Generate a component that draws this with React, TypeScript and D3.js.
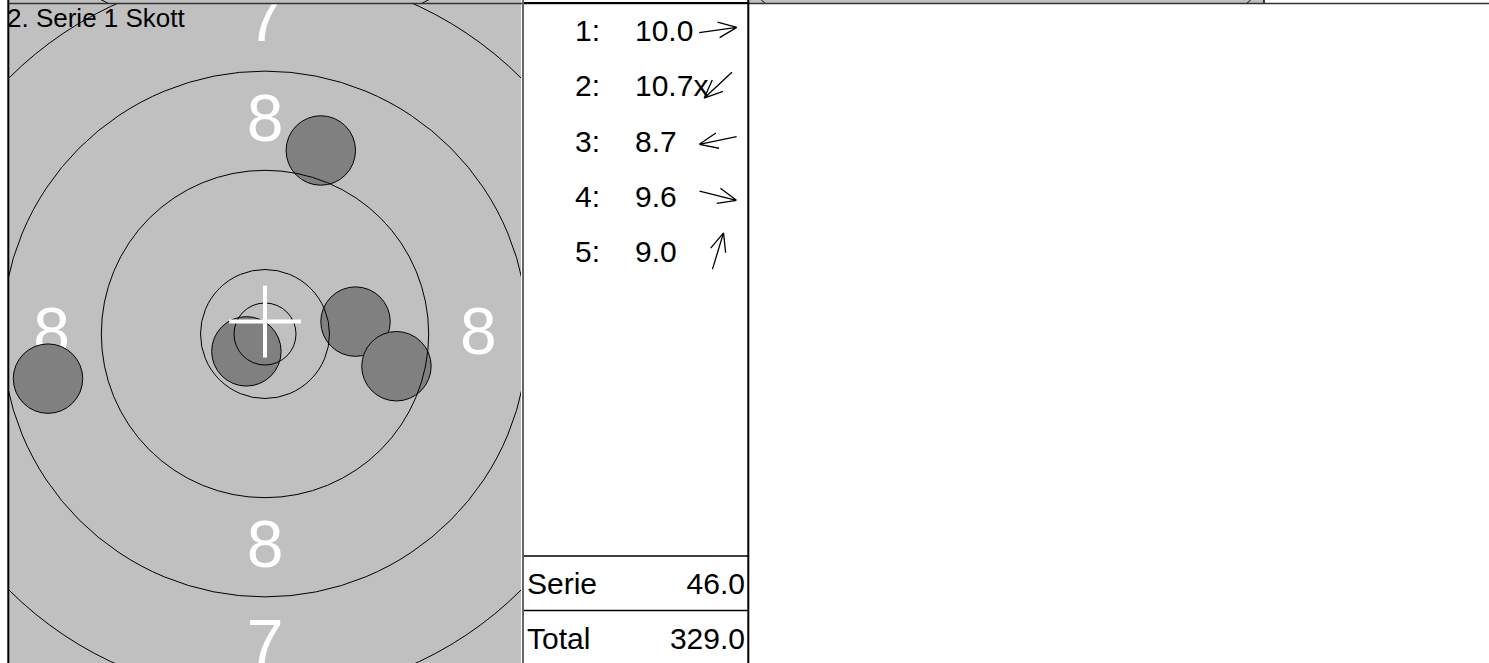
import React, { useRef, useEffect } from "react";
import * as d3 from "d3";

// series header and shot list
const seriesTitle = "2. Serie 1 Skott";
const shotLabels = ["1:", "2:", "3:", "4:", "5:"];
const shotScores = ["10.0", "10.7x", "8.7", "9.6", "9.0"];
// shot positions in mm from target centre (x right, y up)
const shotX = [7.3, -1.5, -17.5, 10.6, 4.5];
const shotY = [1.0, -1.4, -3.6, -2.6, 14.8];
const shotRadius = 2.8;
// ring radii in mm: inner ten, 10, 9, 8, 7
const ringRadii = [2.5, 5.2, 13.2, 21.2, 29.2];
const ringLabels = ["8", "7"];
const ringLabelDist = [17.2, 25.2];
// white sight cross
const aimX = 0;
const aimY = 1.0;
const aimSize = 2.9;
const summaryLabels = ["Serie", "Total"];
const summaryValues = ["46.0", "329.0"];

const W = 1489;
const H = 663;
const FONT = "'Liberation Sans', Arial, sans-serif";

const App: React.FC = () => {
  const ref = useRef<SVGSVGElement | null>(null);

  useEffect(() => {
    if (!ref.current) return;
    const svg = d3.select(ref.current);
    svg.selectAll("*").remove();

    const k = 12.4; // px per mm
    const panel = { x0: 9, x1: 521, y0: 4, y1: H };
    const list = { x0: 522, x1: 748 };

    const defs = svg.append("defs");
    defs
      .append("clipPath")
      .attr("id", "target-clip")
      .append("rect")
      .attr("x", panel.x0)
      .attr("y", panel.y0)
      .attr("width", panel.x1 - panel.x0)
      .attr("height", panel.y1 - panel.y0);
    defs
      .append("clipPath")
      .attr("id", "strip-clip")
      .append("rect")
      .attr("x", 0)
      .attr("y", 0)
      .attr("width", W)
      .attr("height", 3);

    const drawTarget = (
      g: d3.Selection<SVGGElement, unknown, null, undefined>,
      cx: number,
      cy: number,
      full: boolean
    ) => {
      const x = d3.scaleLinear().domain([0, 1]).range([cx, cx + k]);
      const y = d3.scaleLinear().domain([0, 1]).range([cy, cy - k]);
      const r = d3.scaleLinear().domain([0, 1]).range([0, k]);

      if (full) {
        // ring numbers
        ringLabels.forEach((lab, i) => {
          const d = ringLabelDist[i];
          const pts: [number, number][] =
            lab === "8"
              ? [
                  [0, d],
                  [0, -d],
                  [-d, 0],
                  [d, 0],
                ]
              : [
                  [0, d],
                  [0, -d],
                ];
          g.selectAll(null)
            .data(pts)
            .enter()
            .append("text")
            .attr("x", (p) => x(p[0]))
            .attr("y", (p) => y(p[1]))
            .attr("dy", "0.3em")
            .attr("text-anchor", "middle")
            .attr("font-family", FONT)
            .attr("font-size", 66)
            .attr("fill", "#ffffff")
            .text(lab);
        });

        g.selectAll("circle.shot")
          .data(shotX)
          .enter()
          .append("circle")
          .attr("class", "shot")
          .attr("cx", (d) => x(d))
          .attr("cy", (_, i) => y(shotY[i]))
          .attr("r", r(shotRadius))
          .attr("fill", "#808080")
          .attr("stroke", "#000")
          .attr("stroke-width", 1);
      }

      g.selectAll("circle.ring")
        .data(ringRadii)
        .enter()
        .append("circle")
        .attr("class", "ring")
        .attr("cx", cx)
        .attr("cy", cy)
        .attr("r", (d) => r(d))
        .attr("fill", "none")
        .attr("stroke", "#000")
        .attr("stroke-width", 1);

      if (full) {
        const cross = g.append("g").attr("stroke", "#fff").attr("stroke-width", 4);
        cross
          .append("line")
          .attr("x1", x(aimX - aimSize))
          .attr("x2", x(aimX + aimSize))
          .attr("y1", y(aimY))
          .attr("y2", y(aimY));
        cross
          .append("line")
          .attr("x1", x(aimX))
          .attr("x2", x(aimX))
          .attr("y1", y(aimY - aimSize))
          .attr("y2", y(aimY + aimSize));
      }
    };

    // strip of the previous row at the top edge
    const strip = svg.append("g").attr("clip-path", "url(#strip-clip)");
    strip
      .append("rect")
      .attr("x", panel.x0)
      .attr("y", 0)
      .attr("width", panel.x1 - panel.x0)
      .attr("height", 3)
      .attr("fill", "#c0c0c0");
    strip
      .append("rect")
      .attr("x", 749)
      .attr("y", 0)
      .attr("width", 515)
      .attr("height", 3)
      .attr("fill", "#c0c0c0");
    drawTarget(strip, 265, -323, false);
    strip
      .append("circle")
      .attr("cx", 1006)
      .attr("cy", -267)
      .attr("r", ringRadii[4] * k)
      .attr("fill", "none")
      .attr("stroke", "#000");

    // current target panel
    const tg = svg.append("g").attr("clip-path", "url(#target-clip)");
    tg.append("rect")
      .attr("x", panel.x0)
      .attr("y", panel.y0)
      .attr("width", panel.x1 - panel.x0)
      .attr("height", panel.y1 - panel.y0)
      .attr("fill", "#c0c0c0");
    drawTarget(tg, 265, 334, true);

    svg
      .append("text")
      .attr("x", 7)
      .attr("y", 27)
      .attr("font-family", FONT)
      .attr("font-size", 26)
      .attr("fill", "#000")
      .text(seriesTitle);

    // shot list
    const rowY = d3.scaleLinear().domain([0, 4]).range([41, 262]);
    const lg = svg.append("g").attr("font-family", FONT).attr("font-size", 30);
    shotLabels.forEach((lab, i) => {
      lg.append("text").attr("x", 575).attr("y", rowY(i)).text(lab);
      lg.append("text").attr("x", 635).attr("y", rowY(i)).text(shotScores[i]);

      // direction arrow pointing from centre towards the shot
      const a = Math.atan2(-shotY[i], shotX[i]);
      const mx = 718;
      const my = rowY(i) - 11;
      const half = 19;
      const tipX = mx + half * Math.cos(a);
      const tipY = my + half * Math.sin(a);
      const path = d3.path();
      path.moveTo(mx - half * Math.cos(a), my - half * Math.sin(a));
      path.lineTo(tipX, tipY);
      [-0.4, 0.4].forEach((s) => {
        path.moveTo(tipX, tipY);
        path.lineTo(tipX - 20 * Math.cos(a + s), tipY - 20 * Math.sin(a + s));
      });
      lg.append("path")
        .attr("d", path.toString())
        .attr("fill", "none")
        .attr("stroke", "#000")
        .attr("stroke-width", 1.3);
    });

    // summary boxes
    const sumY = d3.scaleLinear().domain([0, 1]).range([594, 649]);
    summaryLabels.forEach((lab, i) => {
      lg.append("text").attr("x", 527).attr("y", sumY(i)).text(lab);
      lg.append("text")
        .attr("x", 745)
        .attr("y", sumY(i))
        .attr("text-anchor", "end")
        .text(summaryValues[i]);
    });
    [556, 610.5].forEach((yy) => {
      svg
        .append("line")
        .attr("x1", list.x0)
        .attr("x2", list.x1)
        .attr("y1", yy)
        .attr("y2", yy)
        .attr("stroke", "#000")
        .attr("stroke-width", 1.5);
    });

    // frame lines
    const frame = svg.append("g").attr("fill", "none");
    frame
      .append("line")
      .attr("x1", 8)
      .attr("x2", W)
      .attr("y1", 3.5)
      .attr("y2", 3.5)
      .attr("stroke", "#333")
      .attr("stroke-width", 1.5);
    frame
      .append("line")
      .attr("x1", list.x0)
      .attr("x2", list.x1)
      .attr("y1", 3)
      .attr("y2", 3)
      .attr("stroke", "#000")
      .attr("stroke-width", 2);
    frame
      .append("line")
      .attr("x1", 8.3)
      .attr("x2", 8.3)
      .attr("y1", 0)
      .attr("y2", H)
      .attr("stroke", "#000")
      .attr("stroke-width", 2);
    frame
      .append("line")
      .attr("x1", 523)
      .attr("x2", 523)
      .attr("y1", 0)
      .attr("y2", H)
      .attr("stroke", "#666")
      .attr("stroke-width", 2);
    frame
      .append("line")
      .attr("x1", 748.3)
      .attr("x2", 748.3)
      .attr("y1", 0)
      .attr("y2", H)
      .attr("stroke", "#000")
      .attr("stroke-width", 2);
    frame
      .append("line")
      .attr("x1", 1264)
      .attr("x2", 1264)
      .attr("y1", 0)
      .attr("y2", 3)
      .attr("stroke", "#000")
      .attr("stroke-width", 1.5);
  }, []);

  return (
    <svg
      ref={ref}
      width={W}
      height={H}
      style={{ position: "absolute", left: 0, top: 0, background: "#fff" }}
    ></svg>
  );
};

export default App;
